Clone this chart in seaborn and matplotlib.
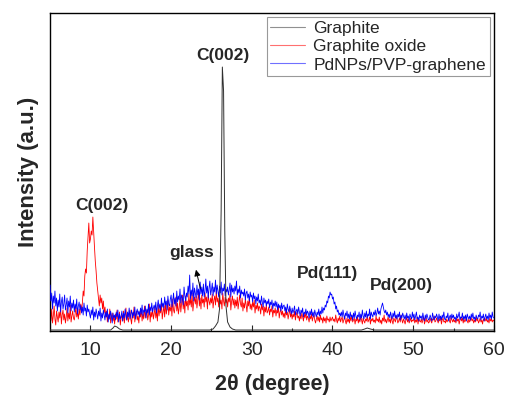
import numpy as np
import pandas as pd
import seaborn as sns
import matplotlib.pyplot as plt
from matplotlib.lines import Line2D

# --- scan grid (0.1 degree step) ---
two_theta = np.round(np.arange(5, 60.05, 0.1), 1)

# --- Graphite oxide (red) ---
go_int = [
    18, 10, 22, 8, 15, 25, 12, 6, 20, 14,
    9, 19, 13, 24, 7, 16, 21, 11, 17, 8,
    14, 23, 10, 18, 12, 26, 9, 15, 20, 13,
    11, 17, 24, 14, 19, 12, 22, 16, 27, 20,
    28, 40, 35, 55, 62, 58, 80, 95, 108, 88,
    92, 100, 96, 114, 98, 84, 70, 60, 48, 40,
    32, 25, 36, 28, 33, 22, 30, 18, 24, 14,
    20, 9, 16, 12, 22, 8, 14, 18, 10, 15,
    7, 17, 12, 21, 9, 14, 19, 6, 13, 16,
    10, 20, 8, 15, 23, 11, 17, 9, 14, 21,
    12, 7, 18, 13, 24, 9, 16, 20, 11, 15,
    8, 19, 14, 22, 10, 17, 12, 25, 13, 18,
    21, 11, 16, 27, 9, 19, 14, 23, 12, 17,
    24, 13, 20, 10, 26, 15, 22, 18, 28, 12,
    19, 25, 14, 29, 17, 22, 31, 16, 24, 20,
    27, 15, 32, 21, 18, 26, 34, 20, 28, 17,
    23, 33, 19, 28, 36, 22, 30, 18, 35, 25,
    30, 21, 37, 26, 32, 24, 38, 20, 29, 34,
    27, 35, 23, 31, 39, 25, 33, 22, 36, 28,
    32, 24, 38, 29, 34, 22, 36, 30, 26, 33,
    28, 37, 23, 31, 35, 26, 40, 29, 33, 24,
    36, 27, 31, 22, 38, 30, 25, 34, 28, 32,
    24, 33, 29, 37, 21, 30, 35, 26, 32, 23,
    31, 25, 34, 22, 29, 36, 27, 24, 33, 20,
    28, 23, 32, 26, 19, 30, 25, 34, 22, 27,
    21, 29, 24, 31, 18, 26, 22, 28, 20, 25,
    23, 17, 27, 21, 25, 15, 24, 19, 26, 18,
    20, 24, 16, 22, 19, 25, 14, 21, 18, 23,
    15, 21, 18, 24, 13, 19, 22, 16, 20, 14,
    18, 13, 21, 16, 19, 12, 17, 22, 14, 18,
    12, 17, 14, 20, 11, 16, 19, 13, 15, 10,
    16, 12, 18, 14, 10, 17, 13, 19, 11, 15,
    13, 9, 15, 12, 17, 10, 14, 16, 11, 8,
    12, 15, 10, 14, 9, 16, 11, 13, 8, 14,
    10, 13, 8, 15, 11, 12, 9, 14, 10, 12,
    14, 10, 12, 9, 16, 11, 8, 13, 10, 15,
    9, 12, 14, 8, 11, 15, 10, 7, 13, 9,
    12, 8, 14, 10, 16, 9, 11, 13, 7, 12,
    10, 14, 8, 12, 9, 15, 11, 7, 13, 10,
    8, 12, 10, 15, 9, 11, 14, 7, 12, 10,
    13, 9, 11, 8, 15, 10, 12, 9, 14, 8,
    11, 7, 13, 10, 16, 9, 12, 8, 11, 14,
    9, 12, 8, 14, 10, 7, 13, 11, 9, 15,
    12, 8, 10, 13, 9, 16, 11, 8, 12, 10,
    7, 11, 14, 9, 12, 8, 10, 13, 9, 11,
    10, 13, 8, 11, 9, 14, 7, 12, 10, 9,
    12, 8, 11, 14, 7, 10, 13, 9, 11, 8,
    9, 13, 10, 8, 12, 11, 15, 9, 10, 13,
    11, 8, 12, 10, 14, 7, 11, 13, 9, 10,
    8, 12, 9, 11, 13, 10, 8, 14, 11, 9,
    12, 9, 11, 8, 13, 10, 12, 7, 11, 14,
    10, 13, 8, 12, 9, 11, 14, 10, 8, 12,
    9, 11, 13, 10, 12, 8, 11, 9, 14, 10,
    12, 8, 10, 13, 9, 11, 7, 12, 10, 13,
    10, 12, 9, 11, 8, 13, 10, 12, 9, 11,
    10,
]

# --- PdNPs/PVP-graphene (blue) ---
pd_int = [
    46, 30, 38, 22, 35, 28, 40, 25, 33, 20,
    31, 24, 37, 19, 29, 34, 22, 27, 36, 21,
    26, 33, 18, 30, 24, 35, 20, 28, 23, 31,
    19, 27, 22, 32, 17, 25, 29, 21, 26, 18,
    24, 16, 28, 20, 23, 15, 26, 19, 22, 17,
    13, 21, 16, 24, 11, 19, 14, 22, 17, 12,
    20, 15, 23, 10, 18, 13, 21, 16, 11, 19,
    14, 22, 9, 17, 12, 20, 15, 8, 18, 13,
    16, 11, 19, 14, 21, 9, 17, 12, 15, 20,
    10, 18, 13, 22, 16, 11, 19, 14, 23, 12,
    17, 21, 13, 19, 15, 24, 12, 18, 22, 16,
    20, 14, 23, 17, 26, 15, 21, 19, 25, 13,
    22, 18, 27, 16, 24, 20, 28, 19, 23, 26,
    21, 29, 18, 25, 31, 22, 27, 20, 33, 24,
    28, 23, 34, 26, 30, 21, 35, 27, 25, 32,
    36, 24, 30, 38, 27, 33, 25, 40, 29, 35,
    31, 42, 28, 36, 33, 26, 44, 35, 30, 38,
    34, 45, 37, 56, 32, 41, 35, 48, 30, 43,
    38, 33, 46, 36, 42, 31, 49, 37, 44, 35,
    47, 34, 40, 52, 38, 45, 33, 43, 50, 36,
    41, 48, 35, 44, 39, 51, 37, 46, 40, 34,
    45, 38, 49, 36, 43, 40, 47, 35, 42, 39,
    44, 36, 41, 48, 34, 46, 39, 43, 37, 45,
    40, 50, 36, 42, 38, 45, 33, 41, 37, 39,
    35, 42, 31, 38, 40, 33, 37, 30, 39, 34,
    36, 29, 38, 32, 35, 27, 34, 30, 37, 28,
    31, 26, 35, 29, 24, 33, 28, 31, 25, 30,
    27, 32, 23, 29, 26, 31, 22, 28, 25, 30,
    24, 29, 21, 27, 23, 26, 20, 28, 22, 25,
    26, 20, 24, 18, 27, 22, 19, 25, 21, 17,
    23, 18, 21, 25, 16, 20, 22, 17, 24, 19,
    15, 21, 18, 23, 14, 19, 17, 22, 16, 20,
    18, 13, 20, 16, 22, 15, 19, 14, 21, 17,
    14, 19, 16, 22, 15, 20, 17, 24, 18, 23,
    21, 26, 24, 30, 28, 35, 33, 39, 36, 37,
    32, 34, 27, 29, 22, 25, 19, 21, 16, 18,
    15, 19, 14, 21, 16, 12, 18, 15, 20, 13,
    17, 12, 19, 14, 16, 11, 18, 13, 20, 15,
    12, 16, 14, 19, 11, 17, 13, 21, 15, 12,
    18, 14, 20, 13, 17, 15, 22, 12, 19, 16,
    14, 19, 16, 21, 15, 18, 23, 17, 20, 16,
    22, 25, 28, 24, 20, 18, 21, 16, 19, 14,
    17, 13, 19, 15, 12, 18, 14, 20, 13, 16,
    12, 17, 14, 19, 11, 16, 13, 18, 15, 12,
    16, 11, 18, 13, 15, 10, 17, 14, 12, 19,
    13, 17, 11, 15, 19, 12, 14, 10, 16, 13,
    15, 11, 18, 13, 10, 16, 12, 17, 14, 11,
    12, 16, 13, 10, 18, 14, 11, 15, 13, 17,
    14, 10, 17, 12, 15, 11, 16, 13, 19, 12,
    11, 15, 13, 18, 10, 14, 16, 12, 17, 13,
    16, 12, 14, 10, 17, 13, 15, 19, 11, 14,
    13, 18, 11, 15, 12, 16, 10, 17, 14, 12,
    15, 11, 17, 13, 18, 12, 14, 10, 16, 13,
    12, 16, 14, 19, 11, 15, 13, 17, 10, 14,
    17, 12, 15, 11, 18, 13, 16, 12, 19, 14,
    13,
]

# --- Graphite (black), flat except the peaks ---
graphite_2theta = [5, 8, 10, 12, 12.5, 12.8, 13.0, 13.3, 13.6, 14.0, 18, 22, 24.8,
                   25.2, 25.5, 25.8, 26.0, 26.2, 26.35, 26.5, 26.65, 26.8, 27.0,
                   27.3, 27.6, 28.0, 32, 36, 40, 43.6, 44.0, 44.3, 44.7, 45.2, 50, 55, 60]
graphite_int = [1, 1, 1, 1, 1, 3, 5, 4, 2, 1, 1, 1, 1,
                2, 5, 9, 22, 120, 264, 240, 100, 25, 9,
                4, 2, 1, 1, 1, 1, 1, 2, 3, 2, 1, 1, 1, 1]

labels = ['Graphite', 'Graphite oxide', 'PdNPs/PVP-graphene']
colors = ['#303030', 'red', 'blue']

df_go = pd.DataFrame({'2theta': two_theta, 'I': go_int})
df_pd = pd.DataFrame({'2theta': two_theta, 'I': pd_int})
df_gr = pd.DataFrame({'2theta': graphite_2theta, 'I': graphite_int})

sns.set_style('ticks')
plt.rcParams['font.family'] = ['Liberation Sans', 'DejaVu Sans']

fig = plt.figure(figsize=(5.06, 3.95), dpi=100)
ax = fig.add_axes([0.099, 0.162, 0.877, 0.805])

sns.lineplot(data=df_go, x='2theta', y='I', color=colors[1], lw=0.6,
             estimator=None, sort=False, ax=ax, zorder=2)
sns.lineplot(data=df_pd, x='2theta', y='I', color=colors[2], lw=0.6,
             estimator=None, sort=False, ax=ax, zorder=3)
sns.lineplot(data=df_gr, x='2theta', y='I', color=colors[0], lw=0.7,
             estimator=None, sort=False, ax=ax, zorder=4)

# legend handles (Graphite first)
handles = [Line2D([], [], color='#909090', lw=0.8),
           Line2D([], [], color='#ff7070', lw=0.8),
           Line2D([], [], color='#7070ff', lw=0.8)]
leg = ax.legend(handles, labels, loc='upper right', fontsize=12.5, frameon=True,
                fancybox=False, handlelength=2.0, handletextpad=0.5,
                borderpad=0.2, labelspacing=0.18, borderaxespad=0.25)
leg.get_frame().set_edgecolor('gray')
leg.get_frame().set_linewidth(0.8)

# annotations
ax.text(26.4, 268, 'C(002)', ha='center', va='bottom', fontsize=12.5, fontweight='bold')
ax.text(11.4, 118, 'C(002)', ha='center', va='bottom', fontsize=12.5, fontweight='bold')
ax.text(22.5, 71, 'glass', ha='center', va='bottom', fontsize=12.5, fontweight='bold')
ax.annotate('', xy=(23.0, 64), xytext=(23.7, 40), zorder=6,
            arrowprops=dict(arrowstyle='-|>', color='black', lw=0.7, mutation_scale=9))
ax.text(39.4, 50, 'Pd(111)', ha='center', va='bottom', fontsize=12.5, fontweight='bold')
ax.text(48.5, 38, 'Pd(200)', ha='center', va='bottom', fontsize=12.5, fontweight='bold')

ax.set_xlim(5, 60)
ax.set_ylim(0, 318)
ax.set_xticks([10, 20, 30, 40, 50, 60])
ax.set_xticks([15, 25, 35, 45, 55], minor=True)
ax.set_yticks([])
ax.tick_params(axis='x', which='major', direction='in', length=4, width=0.8, labelsize=14, pad=8)
ax.tick_params(axis='x', which='minor', direction='in', length=2, width=0.8)
ax.set_xlabel('2θ (degree)', fontsize=15.5, fontweight='bold', labelpad=11)
ax.set_ylabel('Intensity (a.u.)', fontsize=16, fontweight='bold', labelpad=8)
for s in ax.spines.values():
    s.set_linewidth(1.0)
    s.set_color('black')

fig.savefig('out.png', dpi=100)
